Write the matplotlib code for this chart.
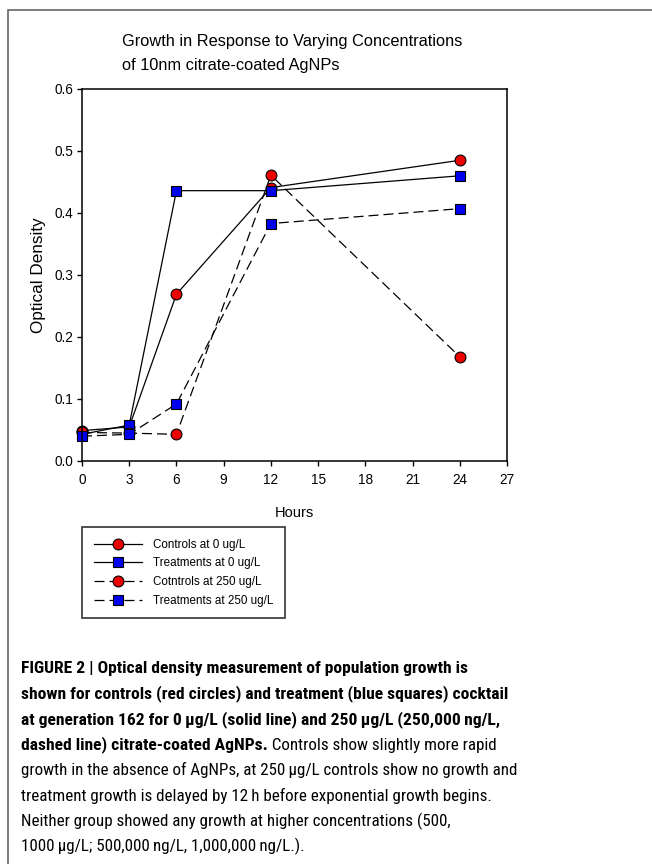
import matplotlib
matplotlib.use('Agg')
import matplotlib.pyplot as plt
from matplotlib import font_manager
from matplotlib.patches import Rectangle

plt.rcParams['font.family'] = ['Liberation Sans', 'DejaVu Sans']

# Dados
horas = [0, 3, 6, 12, 24]
controle_0 = [0.049, 0.055, 0.269, 0.441, 0.485]
tratamento_0 = [0.043, 0.058, 0.436, 0.436, 0.460]
controle_250 = [0.046, 0.045, 0.043, 0.461, 0.168]
tratamento_250 = [0.040, 0.043, 0.092, 0.383, 0.407]

rotulos = ['Controls at 0 ug/L', 'Treatments at 0 ug/L',
           'Cotntrols at 250 ug/L', 'Treatments at 250 ug/L']

fig = plt.figure(figsize=(6.52, 8.64), dpi=100)
W, H = 652, 864
rend = fig.canvas.get_renderer()


def largura(txt, tam, **kw):
    t = fig.text(0, 0, txt, fontsize=tam, **kw)
    w = t.get_window_extent(rend).width
    t.remove()
    return w


def ajusta(txt, alvo, **kw):
    # tamanho da fonte para o texto ocupar 'alvo' pixels
    return 12 * alvo / largura(txt, 12, **kw)


# moldura cinza
fig.patches.append(Rectangle((8 / W, -0.05), 1.2, 1 - 10 / H + 0.05,
                             transform=fig.transFigure, fill=False,
                             edgecolor='#666666', linewidth=1.2))

ax = fig.add_axes([82 / W, 1 - 461 / H, 425 / W, 372 / H])

tracejado = (0, (8, 4))
estilo = dict(color='black', linewidth=0.9, markeredgecolor='black',
              markeredgewidth=0.8, clip_on=False)
ax.plot(horas, controle_0, '-', marker='o', markersize=7.8,
        markerfacecolor='#ee0000', label=rotulos[0], **estilo)
ax.plot(horas, tratamento_0, '-', marker='s', markersize=6.8,
        markerfacecolor='#0000ee', label=rotulos[1], **estilo)
ax.plot(horas, controle_250, linestyle=tracejado, marker='o', markersize=7.8,
        markerfacecolor='#ee0000', label=rotulos[2], **estilo)
ax.plot(horas, tratamento_250, linestyle=tracejado, marker='s', markersize=6.8,
        markerfacecolor='#0000ee', label=rotulos[3], **estilo)

ax.set_xlim(0, 27)
ax.set_ylim(0, 0.6)
ax.set_xticks(range(0, 28, 3))
ax.set_yticks([0.0, 0.1, 0.2, 0.3, 0.4, 0.5, 0.6])
ax.set_yticklabels(['0.0', '0.1', '0.2', '0.3', '0.4', '0.5', '0.6'])
ax.tick_params(direction='out', length=3.5, width=1, labelsize=9.8)
ax.tick_params(axis='y', pad=3)
ax.tick_params(axis='x', pad=5)
for s in ax.spines.values():
    s.set_linewidth(1.1)
ax.set_xlabel('Hours', fontsize=10.5, labelpad=14)
ax.set_ylabel('Optical Density', fontsize=12.3, labelpad=6)

# titulo
tam_tit = ajusta('Growth in Response to Varying Concentrations', 341)
fig.text(122 / W, 1 - 46 / H, 'Growth in Response to Varying Concentrations',
         fontsize=tam_tit, va='baseline')
fig.text(122 / W, 1 - 70 / H, 'of 10nm citrate-coated AgNPs',
         fontsize=tam_tit, va='baseline')

tam_leg = ajusta(rotulos[0], 92)
leg = ax.legend(loc='upper left', bbox_to_anchor=(82 / W, 1 - 527 / H),
                bbox_transform=fig.transFigure, fontsize=tam_leg, frameon=True,
                fancybox=False, edgecolor='black', handlelength=4.2,
                borderpad=1.0, labelspacing=0.58, handletextpad=0.95,
                borderaxespad=0)
leg.get_frame().set_linewidth(1.2)

# legenda da figura (texto em negrito + normal)
nomes = {f.name for f in font_manager.fontManager.ttflist}
fonte = ['Liberation Sans', 'DejaVu Sans']
for cand in ['Liberation Sans Narrow', 'Roboto Condensed', 'Roboto']:
    if cand in nomes:
        fonte = [cand, 'DejaVu Sans']
        break

linhas_negrito = [
    'FIGURE 2 | Optical density measurement of population growth is',
    'shown for controls (red circles) and treatment (blue squares) cocktail',
    'at generation 162 for 0\u2009\u03bcg/L (solid line) and 250\u2009\u03bcg/L (250,000\u2009ng/L,',
]
linhas_normal = [
    'growth in the absence of AgNPs, at 250\u2009\u03bcg/L controls show no growth and',
    'treatment growth is delayed by 12\u2009h before exponential growth begins.',
    'Neither group showed any growth at higher concentrations (500,',
    '1000\u2009\u03bcg/L; 500,000\u2009ng/L, 1,000,000\u2009ng/L.).',
]
tam_b = ajusta(linhas_negrito[1], 488, fontweight='bold', family=fonte)
tam_n = ajusta(linhas_normal[0], 496, family=fonte)

x0 = 21 / W
ys = [673, 698.5, 724, 749.5, 775, 800.5, 826, 851.5]
for t, y in zip(linhas_negrito, ys):
    fig.text(x0, 1 - y / H, t, fontsize=tam_b, fontweight='bold',
             family=fonte, va='baseline', ha='left')
t4 = fig.text(x0, 1 - ys[3] / H, 'dashed line) citrate-coated AgNPs.',
              fontsize=tam_b, fontweight='bold', family=fonte, va='baseline')
ax.annotate(' Controls show slightly more rapid', xy=(1, 0), xycoords=t4,
            fontsize=tam_n, family=fonte, va='bottom', ha='left',
            annotation_clip=False)
for t, y in zip(linhas_normal, ys[4:]):
    fig.text(x0, 1 - y / H, t, fontsize=tam_n, family=fonte,
             va='baseline', ha='left')

fig.savefig('out.png', dpi=100)
